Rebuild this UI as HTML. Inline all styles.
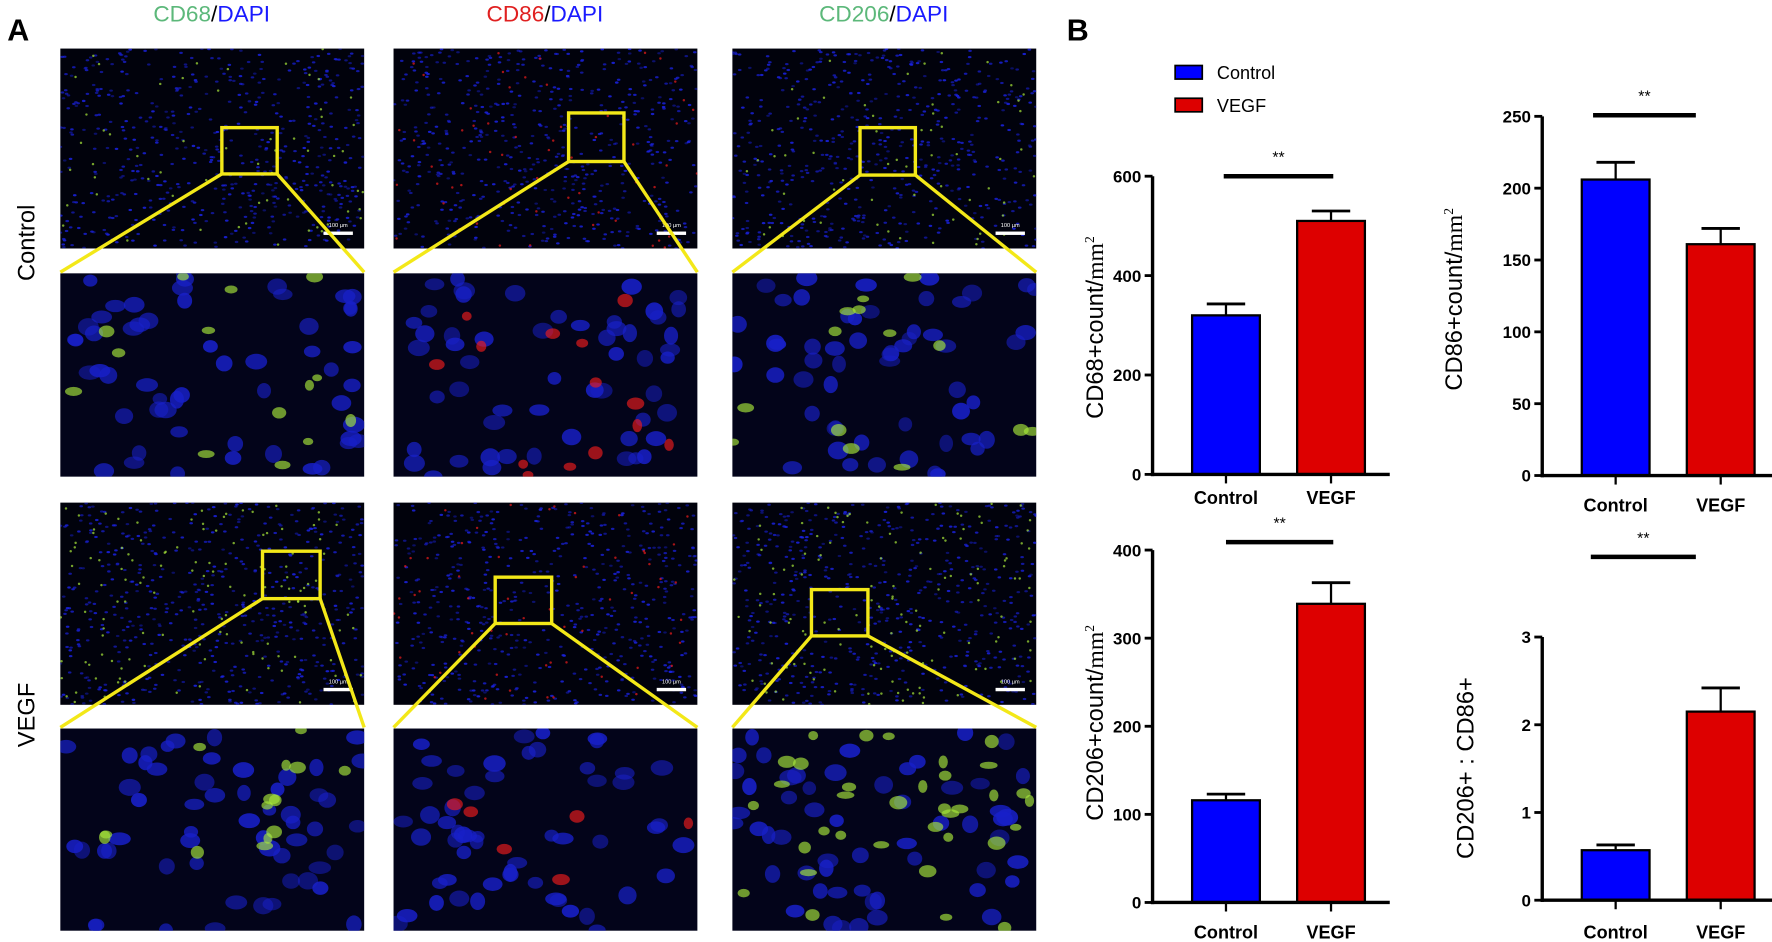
<!DOCTYPE html>
<html><head><meta charset="utf-8">
<style>
html,body{margin:0;padding:0;background:#fff;}
svg{display:block;}
text{font-family:"Liberation Sans",sans-serif;}
</style></head>
<body>
<svg id="fig" width="1772" height="942" viewBox="0 0 1568 834" xmlns="http://www.w3.org/2000/svg">
  <rect x="0" y="0" width="1568" height="834" fill="#fff"/>
  <text x="6" y="36" font-size="27" font-weight="bold">A</text>
  <text x="944" y="36" font-size="27" font-weight="bold">B</text>
  <g><text x="187" y="19" font-size="20" text-anchor="middle"><tspan fill="#5cb87a">CD68</tspan><tspan fill="#000">/</tspan><tspan fill="#1a1aff">DAPI</tspan></text></g>
  <g><text x="482" y="19" font-size="20" text-anchor="middle"><tspan fill="#e02020">CD86</tspan><tspan fill="#000">/</tspan><tspan fill="#1a1aff">DAPI</tspan></text></g>
  <g><text x="782" y="19" font-size="20" text-anchor="middle"><tspan fill="#5cb87a">CD206</tspan><tspan fill="#000">/</tspan><tspan fill="#1a1aff">DAPI</tspan></text></g>
  <text transform="translate(30,215) rotate(-90)" font-size="21" text-anchor="middle">Control</text>
  <text transform="translate(30,633) rotate(-90)" font-size="21" text-anchor="middle">VEGF</text>
  <g id="micro"></g>
  <g id="legend">
    <rect x="1040" y="58" width="24" height="12" fill="#0000ff" stroke="#000" stroke-width="1.5"/>
    <text x="1077" y="70" font-size="16">Control</text>
    <rect x="1040" y="87" width="24" height="12" fill="#dd0000" stroke="#000" stroke-width="1.5"/>
    <text x="1077" y="99" font-size="16">VEGF</text>
  </g>
  <g id="charts"></g>
</svg>
<script>
// ---- chart data ----
const categories = ["Control", "VEGF"];
const cd68Values = [320, 510];
const cd68Errors = [23, 20];
const cd68Ticks = [0, 200, 400, 600];
const cd86Values = [206, 161];
const cd86Errors = [12, 11];
const cd86Ticks = [0, 50, 100, 150, 200, 250];
const cd206Values = [116, 339];
const cd206Errors = [7, 24];
const cd206Ticks = [0, 100, 200, 300, 400];
const ratioValues = [0.57, 2.15];
const ratioErrors = [0.06, 0.27];
const ratioTicks = ["0", "1", "2", "3"];
const sigLabels = ["**", "**", "**", "**"];

const NS = "http://www.w3.org/2000/svg";
function mk(tag, attrs, parent) {
  const e = document.createElementNS(NS, tag);
  for (const k in attrs) e.setAttribute(k, attrs[k]);
  parent.appendChild(e);
  return e;
}

// ---- micrographs (decorative) ----
let seed = 7;
function rnd() { seed = (seed * 16807) % 2147483647; return (seed - 1) / 2147483646; }
const micro = document.getElementById('micro');
const cols = [[53, 322, '#a8e83a'], [348, 617, '#ee1c1c'], [648, 917, '#a8e83a']];
const rows = [[43, 220, false], [242, 422, true], [445, 624, false], [645, 824, true]];
const boxes = [[[196,113,245,154],[503,100,552,143],[761,113,810,155]],
               [[232,488,283,530],[438,511,488,552],[718,522,768,563]]];
rows.forEach((r, ri) => {
  cols.forEach((c, ci) => {
    const g = mk('g', {}, micro);
    
    
    const w = c[1] - c[0], h = r[1] - r[0];
    const cid = 'cl' + ri + ci;
    const cp = mk('clipPath', { id: cid }, g);
    mk('rect', { x: c[0], y: r[0], width: w, height: h }, cp);
    mk('rect', { x: c[0], y: r[0], width: w, height: h, fill: r[2] ? '#03041a' : '#01020c' }, g);
    const inner = mk('g', { 'clip-path': 'url(#' + cid + ')' }, g);
    if (!r[2]) {
      for (let i = 0; i < 550; i++) {
        mk('ellipse', { cx: c[0] + rnd() * w, cy: r[0] + rnd() * h, rx: 1.6, ry: 1, fill: '#1a22e0', opacity: 0.4 + rnd() * 0.5 }, inner);
      }
      const nStain = ri === 2 && ci !== 1 ? 130 : 60;
      for (let i = 0; i < nStain; i++) {
        mk('circle', { cx: c[0] + rnd() * w, cy: r[0] + rnd() * h, r: 1.1, fill: c[2], opacity: 0.7 }, inner);
      }
      mk('rect', { x: c[1] - 36, y: r[1] - 15, width: 26, height: 3, fill: '#fff' }, g);
      mk('text', { x: c[1] - 23, y: r[1] - 19, 'font-size': 5, fill: '#fff', 'text-anchor': 'middle' }, g).textContent = '100 µm';
    } else {
      for (let i = 0; i < 55; i++) {
        mk('ellipse', { cx: c[0] + rnd() * w, cy: r[0] + rnd() * h, rx: 6 + rnd() * 4, ry: 5 + rnd() * 3, fill: '#1820c8', opacity: 0.5 + rnd() * 0.4 }, inner);
      }
      const nStain = ri === 3 && ci === 2 ? 35 : (ci === 1 && ri === 3 ? 6 : 14);
      for (let i = 0; i < nStain; i++) {
        mk('ellipse', { cx: c[0] + rnd() * w, cy: r[0] + rnd() * h, rx: 4 + rnd() * 4, ry: 3 + rnd() * 3, fill: c[2], opacity: 0.65 }, inner);
      }
    }
  });
});
boxes.forEach((row, bi) => {
  const zr = rows[bi * 2 + 1];
  row.forEach((b, ci) => {
    const c = cols[ci];
    const g = mk('g', { stroke: '#f3e818', 'stroke-width': 3, fill: 'none' }, micro);
    
    
    mk('rect', { x: b[0], y: b[1], width: b[2] - b[0], height: b[3] - b[1] }, g);
    mk('line', { x1: b[0], y1: b[3], x2: c[0], y2: zr[0] - 1 }, g);
    mk('line', { x1: b[2], y1: b[3], x2: c[1], y2: zr[0] - 1 }, g);
  });
});

// ---- bar charts ----
const charts = document.getElementById('charts');
function barChart(o) {
  const g = mk('g', {}, charts);
  
  
  const maxV = Number(o.ticks[o.ticks.length - 1]);
  const y = v => o.y0 - (v / maxV) * (o.y0 - o.yTop);
  const barX = [o.ax + 35, o.ax + 128];
  const bw = 60;
  const colors = ['#0000ff', '#dd0000'];
  o.values.forEach((v, i) => {
    const cx = barX[i] + bw / 2;
    const el = mk('line', { x1: cx, x2: cx, y1: y(v), y2: y(v + o.errors[i]), stroke: '#000', 'stroke-width': 2 }, g);
    
    
    mk('line', { x1: cx - 17, x2: cx + 17, y1: y(v + o.errors[i]), y2: y(v + o.errors[i]), stroke: '#000', 'stroke-width': 2.5 }, g);
    const b = mk('rect', { x: barX[i], y: y(v), width: bw, height: o.y0 - y(v), fill: colors[i], stroke: '#000', 'stroke-width': 2 }, g);
    
    
    mk('line', { x1: cx, x2: cx, y1: o.y0, y2: o.y0 + 8, stroke: '#000', 'stroke-width': 2 }, g);
    const t = mk('text', { x: cx, y: o.y0 + o.labOff, 'font-size': 16, 'font-weight': 'bold', 'text-anchor': 'middle' }, g);
    
    
    t.textContent = categories[i];
  });
  const ya = mk('line', { x1: o.ax, x2: o.ax, y1: o.yTop, y2: o.y0 + 1.5, stroke: '#000', 'stroke-width': 3 }, g);
  
  
  const xa = mk('line', { x1: o.ax - 1.5, x2: o.ax + 210, y1: o.y0, y2: o.y0, stroke: '#000', 'stroke-width': 3 }, g);
  
  
  o.ticks.forEach(tv => {
    const v = Number(tv);
    mk('line', { x1: o.ax - 7, x2: o.ax, y1: y(v), y2: y(v), stroke: '#000', 'stroke-width': 2.5 }, g);
    const t = mk('text', { x: o.ax - 10, y: y(v) + 5.5, 'font-size': 15, 'font-weight': 'bold', 'text-anchor': 'end' }, g);
    
    
    t.textContent = tv;
  });
  const sl = mk('line', { x1: o.sig[0], x2: o.sig[1], y1: o.sig[2], y2: o.sig[2], stroke: '#000', 'stroke-width': 4 }, g);
  
  
  const st = mk('text', { x: (o.sig[0] + o.sig[1]) / 2, y: o.sig[2] - 12, 'font-size': 14, 'text-anchor': 'middle' }, g);
  
  
  st.textContent = o.star;
  const yt = mk('text', { transform: 'translate(' + o.tx + ',' + o.ty + ') rotate(-90)', 'font-size': 21, 'text-anchor': 'middle' }, g);
  
  
  yt.innerHTML = o.title;
}
barChart({ name: 'chart-cd68', values: cd68Values, errors: cd68Errors, ticks: cd68Ticks, ax: 1020, y0: 420, yTop: 156, labOff: 26, sig: [1083, 1180, 156], star: sigLabels[0], tx: 976, ty: 290, title: 'CD68+count/<tspan font-family="Liberation Serif,serif">mm</tspan><tspan font-size="12" dy="-8" font-family="Liberation Serif,serif">2</tspan>' });
barChart({ name: 'chart-cd86', values: cd86Values, errors: cd86Errors, ticks: cd86Ticks, ax: 1365, y0: 421, yTop: 103, labOff: 32, sig: [1410, 1501, 102], star: sigLabels[1], tx: 1294, ty: 265, title: 'CD86+count/<tspan font-family="Liberation Serif,serif">mm</tspan><tspan font-size="12" dy="-8" font-family="Liberation Serif,serif">2</tspan>' });
barChart({ name: 'chart-cd206', values: cd206Values, errors: cd206Errors, ticks: cd206Ticks, ax: 1020, y0: 799, yTop: 487, labOff: 32, sig: [1085, 1180, 480], star: sigLabels[2], tx: 976, ty: 640, title: 'CD206+count/<tspan font-family="Liberation Serif,serif">mm</tspan><tspan font-size="12" dy="-8" font-family="Liberation Serif,serif">2</tspan>' });
barChart({ name: 'chart-ratio', values: ratioValues, errors: ratioErrors, ticks: ratioTicks, ax: 1365, y0: 797, yTop: 564, labOff: 34, sig: [1408, 1501, 493], star: sigLabels[3], tx: 1304, ty: 680, title: 'CD206+ :  CD86+' });
</script>
</body></html>
